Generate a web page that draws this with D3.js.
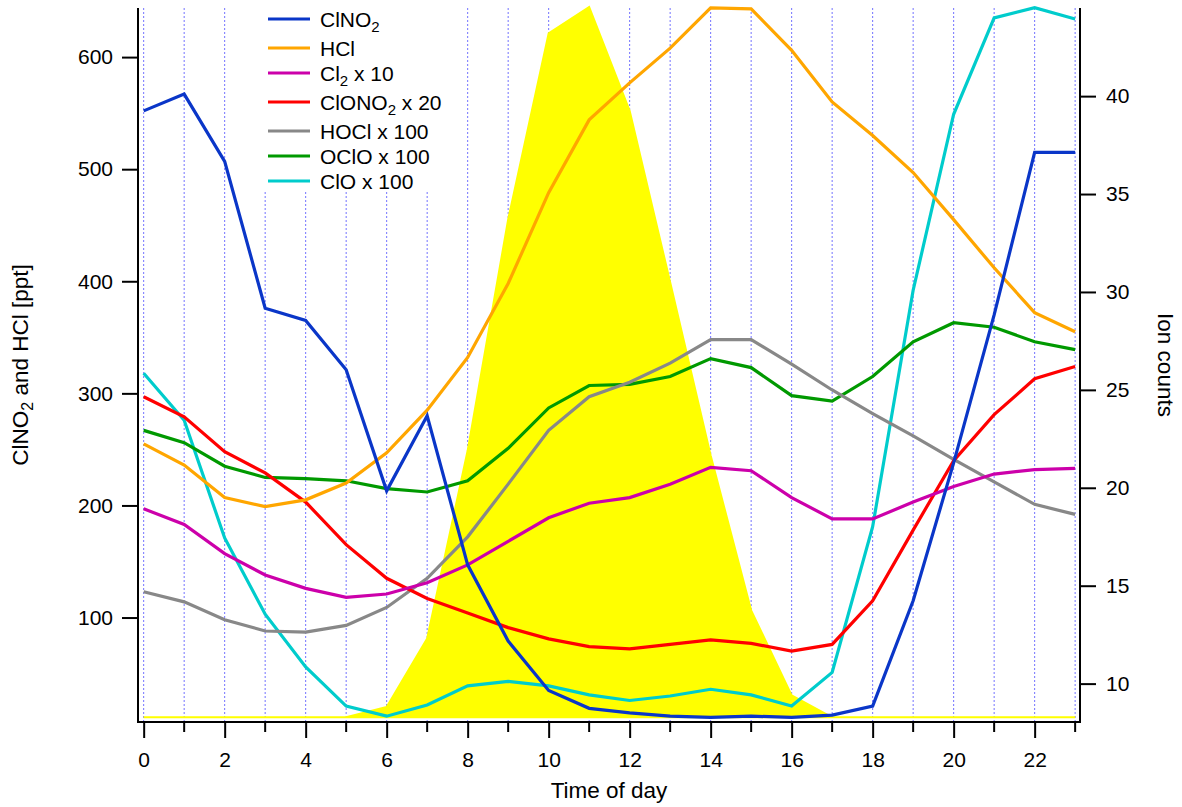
<!DOCTYPE html>
<html>
<head>
<meta charset="utf-8">
<script src="https://cdn.jsdelivr.net/npm/d3@7"></script>
<style>
  body { margin: 0; background: #fff; }
  text { font-family: "Liberation Sans", Arial, Helvetica, sans-serif; fill: #000; }
</style>
</head>
<body>
<div id="chart"></div>
<script>
// time of day (hours)
const hours = [0, 1, 2, 3, 4, 5, 6, 7, 8, 9, 10, 11, 12, 13, 14, 15, 16, 17, 18, 19, 20, 21, 22, 23];

// left axis series, ppt (already multiplied where the legend says so)
const clno2  = [552, 567, 507, 376, 365, 321, 213, 280, 147, 79, 35, 19, 15, 12, 11, 12, 11, 13, 21, 115, 238, 370, 515, 515];
const hcl    = [255, 236, 207, 199, 205, 220, 247, 285, 332, 398, 479, 544, 577, 608, 644, 643, 606, 560, 530, 497, 455, 412, 372, 355];
const cl2    = [197, 183, 157, 138, 126, 118, 121, 131, 147, 168, 189, 202, 207, 219, 234, 231, 207, 188, 188, 203, 217, 228, 232, 233];
const clono2 = [297, 279, 248, 229, 203, 165, 135, 117, 104, 91, 81, 74, 72, 76, 80, 77, 70, 76, 115, 178, 240, 281, 313, 324];
const hocl   = [123, 114, 98, 88, 87, 93, 109, 135, 172, 219, 267, 297, 310, 327, 348, 348, 326, 303, 282, 262, 241, 221, 201, 192];
const oclo   = [267, 256, 235, 225, 224, 222, 215, 212, 222, 251, 287, 307, 308, 315, 331, 323, 298, 293, 315, 346, 363, 359, 346, 339];
const clo    = [318, 276, 171, 103, 56, 21, 12, 22, 39, 43, 39, 31, 26, 30, 36, 31, 21, 51, 181, 392, 549, 635, 644, 634];

// right axis: ion counts (yellow area)
const ionCounts = [8.28, 8.28, 8.28, 8.28, 8.28, 8.28, 8.81, 12.3, 21.9, 33.7, 43.2, 44.55, 39.25, 30.5, 21.65, 13.74, 9.4, 8.28, 8.28, 8.28, 8.28, 8.28, 8.28, 8.28];
const ionBase = 8.28;

const leftTicks  = [100, 200, 300, 400, 500, 600];
const rightTicks = [10, 15, 20, 25, 30, 35, 40];
const xMajor = [0, 2, 4, 6, 8, 10, 12, 14, 16, 18, 20, 22];
const xMinor = [1, 3, 5, 7, 9, 11, 13, 15, 17, 19, 21, 23];

// labels as [text, isSubscript] pieces
const series = [
  {label: [["ClNO", false], ["2", true]],                    values: clno2,  color: "#0a36c8"},
  {label: [["HCl", false]],                                  values: hcl,    color: "#ffa600"},
  {label: [["Cl", false], ["2", true], [" x 10", false]],    values: cl2,    color: "#cc00aa"},
  {label: [["ClONO", false], ["2", true], [" x 20", false]], values: clono2, color: "#ff0000"},
  {label: [["HOCl x 100", false]],                           values: hocl,   color: "#888888"},
  {label: [["OClO x 100", false]],                           values: oclo,   color: "#009900"},
  {label: [["ClO x 100", false]],                            values: clo,    color: "#00cccc"}
];

const dimensions = {
  width: 1182,
  height: 807,
  margin: {top: 8, right: 102, bottom: 85, left: 138}
};
dimensions.boundedWidth = dimensions.width - dimensions.margin.left - dimensions.margin.right;
dimensions.boundedHeight = dimensions.height - dimensions.margin.top - dimensions.margin.bottom;

const svg = d3.select("#chart").append("svg")
    .attr("width", dimensions.width)
    .attr("height", dimensions.height);

const bounds = svg.append("g")
    .attr("transform", `translate(${dimensions.margin.left},${dimensions.margin.top})`);

const xScale = d3.scaleLinear()
  .domain([-0.14, 23.12])
  .range([0, dimensions.boundedWidth]);

const yLeft = d3.scaleLinear()
  .domain([6.8, 643.8])
  .range([dimensions.boundedHeight, 0]);

const yRight = d3.scaleLinear()
  .domain([8.04, 44.5])
  .range([dimensions.boundedHeight, 0]);

// vertical dotted grid, one per hour
bounds.append("g")
  .selectAll("line")
  .data(hours)
  .enter().append("line")
    .attr("x1", d => xScale(d))
    .attr("x2", d => xScale(d))
    .attr("y1", 0)
    .attr("y2", dimensions.boundedHeight)
    .attr("stroke", "#7373ff")
    .attr("stroke-width", 1)
    .attr("stroke-dasharray", "2,2");

// yellow ion count area
const area = d3.area()
  .x((d, i) => xScale(hours[i]))
  .y0(yRight(ionBase))
  .y1(d => yRight(d));

bounds.append("path")
  .datum(ionCounts)
  .attr("d", area)
  .attr("fill", "#ffff00")
  .attr("stroke", "#ffff00")
  .attr("stroke-width", 2);

// series lines
const line = d3.line()
  .x((d, i) => xScale(hours[i]))
  .y(d => yLeft(d));

bounds.append("g")
  .selectAll("path")
  .data(series.slice().reverse())
  .enter().append("path")
    .attr("d", d => line(d.values))
    .attr("fill", "none")
    .attr("stroke", d => d.color)
    .attr("stroke-width", 3.2)
    .attr("stroke-linejoin", "miter");

// legend
const legend = svg.append("g");
legend.append("rect")
  .attr("x", 262).attr("y", 0)
  .attr("width", 178).attr("height", 192)
  .attr("fill", "#fff");

let ly = 19;
series.forEach(s => {
  legend.append("line")
    .attr("x1", 268).attr("x2", 310)
    .attr("y1", ly).attr("y2", ly)
    .attr("stroke", s.color)
    .attr("stroke-width", 3.2);
  const t = legend.append("text")
    .attr("x", 320).attr("y", ly + 7.5)
    .style("font-size", "21px");
  let prevSub = false;
  s.label.forEach(p => {
    if (p[1]) {
      t.append("tspan").attr("dy", 5).style("font-size", "15px").text(p[0]);
    } else {
      t.append("tspan").attr("dy", prevSub ? -5 : 0).text(p[0]);
    }
    prevSub = p[1];
  });
  ly += s.label.some(p => p[1]) ? 29 : 25;
});

// axes
const xAxisMajor = d3.axisBottom(xScale)
  .tickValues(xMajor)
  .tickSize(16)
  .tickPadding(14)
  .tickFormat(d3.format("d"));
const gx = bounds.append("g")
  .attr("transform", `translate(0,${dimensions.boundedHeight})`)
  .call(xAxisMajor);
gx.append("g")
  .selectAll("line")
  .data(xMinor)
  .enter().append("line")
    .attr("x1", d => xScale(d)).attr("x2", d => xScale(d))
    .attr("y1", 0).attr("y2", 10)
    .attr("stroke", "#000").attr("stroke-width", 2);

const yAxisLeft = d3.axisLeft(yLeft)
  .tickValues(leftTicks)
  .tickSize(16)
  .tickPadding(9);
const gyl = bounds.append("g").call(yAxisLeft);

const yAxisRight = d3.axisRight(yRight)
  .tickValues(rightTicks)
  .tickSize(16)
  .tickPadding(10);
const gyr = bounds.append("g")
  .attr("transform", `translate(${dimensions.boundedWidth},0)`)
  .call(yAxisRight);

[gx, gyl, gyr].forEach(g => {
  g.select(".domain").remove();
  g.selectAll(".tick line").attr("stroke", "#000").attr("stroke-width", 2);
  g.selectAll(".tick text").style("font-size", "21px").style("font-family", '"Liberation Sans", Arial, sans-serif');
});

// axis frame lines
const frame = bounds.append("g").attr("stroke", "#000").attr("stroke-width", 2);
frame.append("line").attr("x1", 0).attr("x2", 0).attr("y1", 0).attr("y2", dimensions.boundedHeight + 1);
frame.append("line").attr("x1", dimensions.boundedWidth).attr("x2", dimensions.boundedWidth).attr("y1", 0).attr("y2", dimensions.boundedHeight + 1);
frame.append("line").attr("x1", -1).attr("x2", dimensions.boundedWidth + 1).attr("y1", dimensions.boundedHeight).attr("y2", dimensions.boundedHeight);

// axis titles
svg.append("text")
  .attr("x", dimensions.margin.left + dimensions.boundedWidth / 2)
  .attr("y", 798)
  .attr("text-anchor", "middle")
  .style("font-size", "22.5px")
  .text("Time of day");

const lt = svg.append("text")
  .attr("transform", `translate(28,${dimensions.margin.top + dimensions.boundedHeight / 2}) rotate(-90)`)
  .attr("text-anchor", "middle")
  .style("font-size", "22.5px");
lt.append("tspan").text("ClNO");
lt.append("tspan").attr("dy", 5).style("font-size", "16px").text("2");
lt.append("tspan").attr("dy", -5).text(" and HCl [ppt]");

svg.append("text")
  .attr("transform", `translate(1158,${dimensions.margin.top + dimensions.boundedHeight / 2}) rotate(90)`)
  .attr("text-anchor", "middle")
  .style("font-size", "22.5px")
  .text("Ion counts");
</script>
</body>
</html>
